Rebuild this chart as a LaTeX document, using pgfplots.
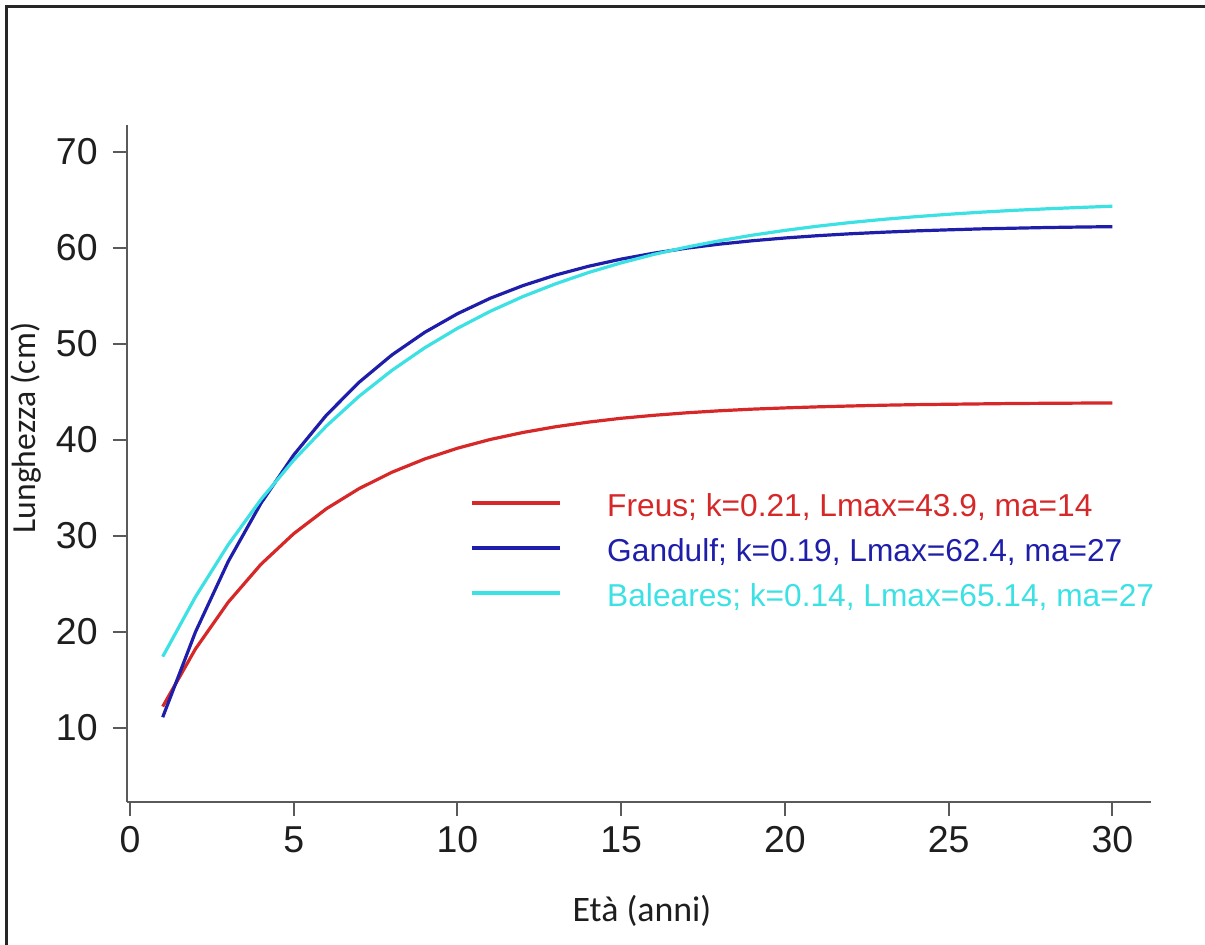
\documentclass[border=0pt]{standalone}
\usepackage{fontspec}
\setmainfont{Liberation Sans}
\newfontfamily\calibri{Carlito}
\usepackage{pgfplots}
\pgfplotsset{compat=1.18}

\definecolor{freus}{RGB}{214,40,40}
\definecolor{gandulf}{RGB}{30,30,170}
\definecolor{baleares}{RGB}{60,225,228}
\definecolor{axisgray}{RGB}{90,90,90}
\definecolor{txt}{RGB}{30,30,30}

\begin{document}
\begin{tikzpicture}
\path[use as bounding box] (-63.35bp,-71.65bp) rectangle (539.15bp,400.85bp);
% cornice del riquadro
\draw[line width=1.1bp, black!85] (-60.1bp,-71.65bp) -- (-60.1bp,397.6bp) -- (539.15bp,397.6bp);
\begin{axis}[
    at={(0,0)}, anchor=south west,
    scale only axis, width=512bp, height=338.35bp,
    xmin=-0.1, xmax=31.17,
    ymin=2.29, ymax=72.78,
    axis x line*=bottom, axis y line*=left,
    axis line style={axisgray, line width=1bp, -},
    every tick/.style={axisgray, line width=1bp},
    tick align=outside, major tick length=7bp,
    xtick={0,5,...,30}, ytick={10,20,...,70},
    minor tick num=0,
    /pgf/number format/assume math mode=true,
    tick label style={font=\fontsize{18.8}{20}\selectfont, text=txt},
    xticklabel style={yshift=-2bp},
    yticklabel style={xshift=-4bp},
    xlabel={Età (anni)}, ylabel={Lunghezza (cm)},
    every axis x label/.style={at={(axis description cs:0.5032,-0.1763)}, anchor=base,
        font=\calibri\fontsize{18}{20}\selectfont, text=txt},
    every axis y label/.style={at={(axis description cs:-0.0983,0.5522)}, rotate=90, anchor=center,
        font=\calibri\fontsize{16.9}{18}\selectfont, text=txt},
    legend style={draw=none, fill=none, inner sep=0pt, outer sep=0pt,
        at={(axis description cs:0.3353,0.3749)}, anchor=west,
        font=\fontsize{15.9}{18}\selectfont,
        row sep=0pt, column sep=23bp,
        nodes={inner xsep=0pt, inner ysep=3.5bp, text height=14.5bp, text depth=1bp}},
    legend cell align=left,
    legend image code/.code={\draw[#1] (0bp,0bp) -- (44bp,0bp);},
    every axis plot/.append style={line width=1.6bp, no markers},
]
\addplot[freus] coordinates {
(1,12.20) (2,18.20) (3,23.07) (4,27.02) (5,30.21) (6,32.81) (7,34.91) (8,36.61)
(9,37.99) (10,39.11) (11,40.02) (12,40.75) (13,41.35) (14,41.83) (15,42.23)
(16,42.54) (17,42.80) (18,43.01) (19,43.18) (20,43.31) (21,43.42) (22,43.51)
(23,43.59) (24,43.65) (25,43.69) (26,43.73) (27,43.77) (28,43.79) (29,43.81) (30,43.83)};
\addlegendentry{\textcolor{freus}{Freus; k=0.21, Lmax=43.9, ma=14}}
\addplot[gandulf] coordinates {
(1,11.09) (2,19.97) (3,27.31) (4,33.38) (5,38.41) (6,42.56) (7,45.99) (8,48.83)
(9,51.18) (10,53.12) (11,54.73) (12,56.05) (13,57.15) (14,58.06) (15,58.81)
(16,59.43) (17,59.95) (18,60.37) (19,60.72) (20,61.01) (21,61.25) (22,61.45)
(23,61.61) (24,61.75) (25,61.86) (26,61.96) (27,62.03) (28,62.10) (29,62.15) (30,62.19)};
\addlegendentry{\textcolor{gandulf}{Gandulf; k=0.19, Lmax=62.4, ma=27}}
\addplot[baleares] coordinates {
(1,17.40) (2,23.63) (3,29.06) (4,33.77) (5,37.87) (6,41.43) (7,44.53) (8,47.22)
(9,49.57) (10,51.60) (11,53.37) (12,54.91) (13,56.24) (14,57.41) (15,58.42)
(16,59.30) (17,60.06) (18,60.72) (19,61.30) (20,61.80) (21,62.24) (22,62.62)
(23,62.95) (24,63.23) (25,63.48) (26,63.70) (27,63.89) (28,64.05) (29,64.19) (30,64.32)};
\addlegendentry{\textcolor{baleares}{Baleares; k=0.14, Lmax=65.14, ma=27}}
\end{axis}
\end{tikzpicture}
\end{document}
